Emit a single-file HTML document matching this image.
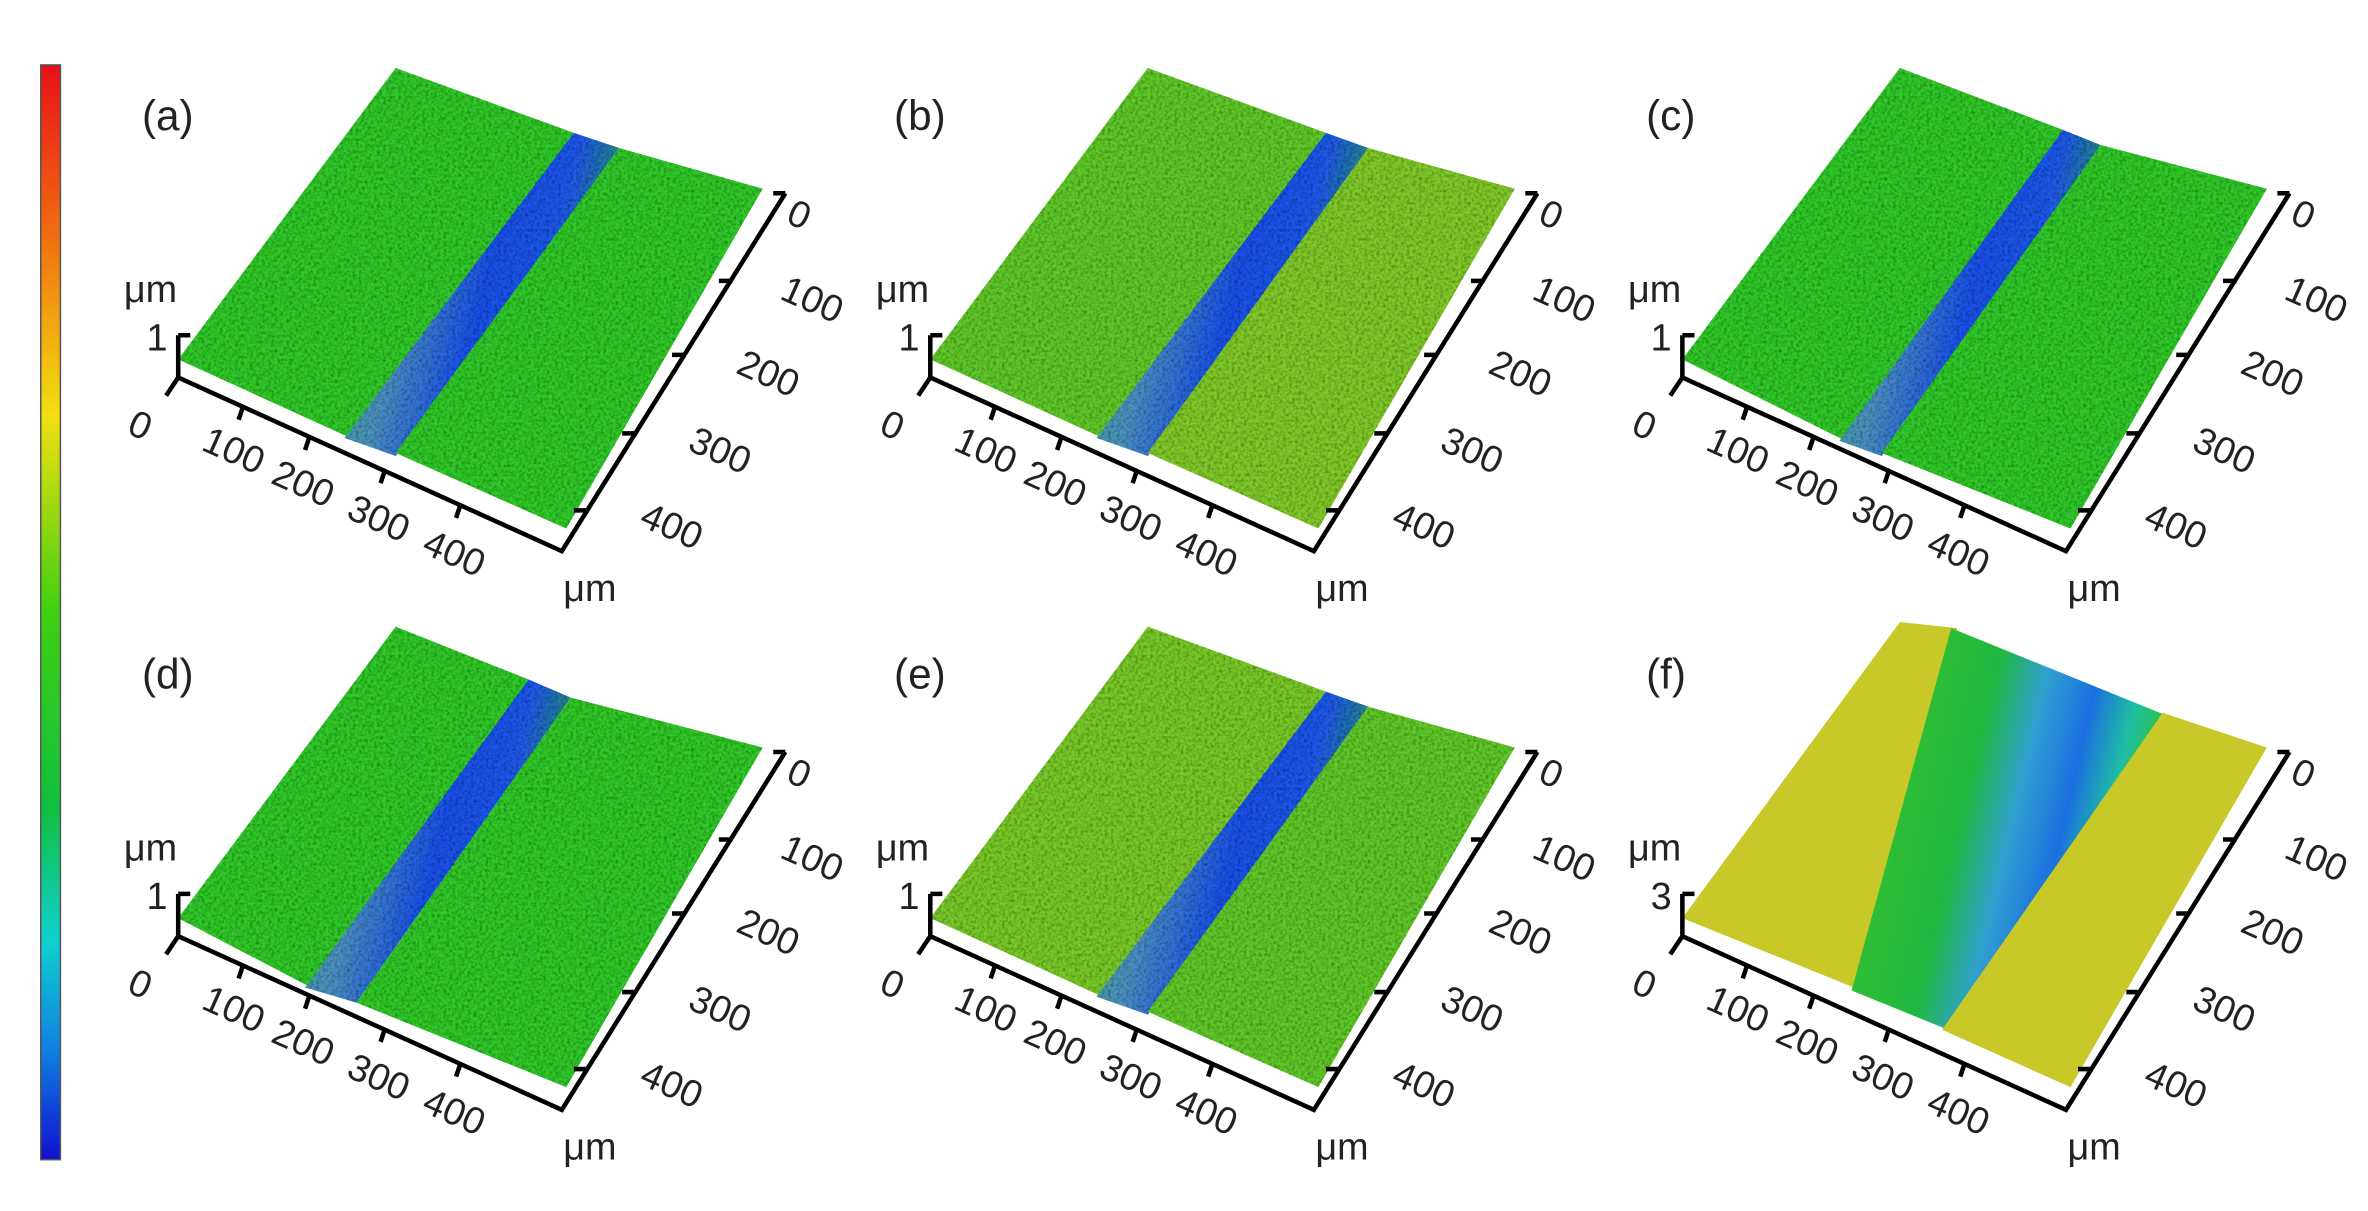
<!DOCTYPE html>
<html><head><style>
html,body{margin:0;padding:0;background:#fff;}
svg{display:block;}
text{font-family:"Liberation Sans",sans-serif;fill:#222;}
</style></head><body>
<svg width="2368" height="1211" viewBox="0 0 1568 802" preserveAspectRatio="none" xmlns="http://www.w3.org/2000/svg">
<defs>
<linearGradient id="cb" x1="0" y1="0" x2="0" y2="1">
<stop offset="0" stop-color="#e8101a"/><stop offset="0.15" stop-color="#f06a10"/>
<stop offset="0.32" stop-color="#f2e010"/><stop offset="0.5" stop-color="#40d010"/>
<stop offset="0.68" stop-color="#10c040"/><stop offset="0.8" stop-color="#10d0d0"/>
<stop offset="0.9" stop-color="#1080e0"/><stop offset="1" stop-color="#1010d0"/>
</linearGradient>
<linearGradient id="gr" x1="0" y1="0" x2="1" y2="0.3">
<stop offset="0" stop-color="#3cb868"/><stop offset="0.35" stop-color="#4a90c0"/>
<stop offset="0.6" stop-color="#1a50e8"/><stop offset="0.8" stop-color="#2058e8"/><stop offset="1" stop-color="#2a9a60"/>
</linearGradient>
<linearGradient id="grf" x1="0" y1="0" x2="1" y2="0.3">
<stop offset="0" stop-color="#b0c830"/><stop offset="0.15" stop-color="#38c030"/>
<stop offset="0.45" stop-color="#20b840"/><stop offset="0.6" stop-color="#30a0d0"/>
<stop offset="0.75" stop-color="#1a70e0"/><stop offset="0.88" stop-color="#20c0a0"/><stop offset="1" stop-color="#30c030"/>
</linearGradient>
<filter id="tx" x="0" y="0" width="1" height="1">
<feTurbulence type="fractalNoise" baseFrequency="0.5" numOctaves="2" result="n"/>
<feColorMatrix in="n" type="matrix" values="0 0 0 0 0  0 0 0 0 0  0 0 0 0 0  0 0 0 -1.2 0.75" result="d"/>
<feComposite in="d" in2="SourceGraphic" operator="in" result="dd"/>
<feMerge><feMergeNode in="SourceGraphic"/><feMergeNode in="dd"/></feMerge>
</filter>
<g id="ax">
<path d="M118,222 h8 M118,222 V250 L110,262 M118,250 L372,365 L520,128 M512,128 h8" stroke="#000" stroke-width="3" fill="none"/>
<path d="M161,269 l-3,9 M205,289 l-3,9 M255,311 l-3,9 M305,334 l-3,9 M485,186 l-9,0 M454,235 l-9,0 M421,287 l-9,0 M389,338 l-9,0" stroke="#000" stroke-width="3"/>
<g font-size="25">
<text x="86" y="291" transform="rotate(24 95 282)">0</text>
<text x="134" y="306" transform="rotate(24 153 298)">100</text>
<text x="180" y="328" transform="rotate(24 199 320)">200</text>
<text x="230" y="351" transform="rotate(24 249 343)">300</text>
<text x="280" y="374" transform="rotate(24 299 366)">400</text>
<text x="522" y="151" transform="rotate(24 530 143)">0</text>
<text x="517" y="206" transform="rotate(24 536 198)">100</text>
<text x="488" y="255" transform="rotate(24 507 247)">200</text>
<text x="456" y="306" transform="rotate(24 475 298)">300</text>
<text x="424" y="356" transform="rotate(24 443 348)">400</text>
<text x="373" y="398">μm</text>
<text x="82" y="200">μm</text>
</g>
</g>
</defs>
<rect x="27" y="43" width="13" height="725" fill="url(#cb)" stroke="#555" stroke-width="1"/>

<!-- panel a -->
<g>
<g filter="url(#tx)">
<polygon points="262,45 380,88 232,290 118,238" fill="#30c82a"/>
<polygon points="380,88 410,98 262,302 228,290" fill="url(#gr)"/>
<polygon points="410,98 505,125 375,350 262,300" fill="#30c82a"/>
</g>
<use href="#ax"/>
<text x="94" y="86" font-size="28">(a)</text><text x="97" y="232" font-size="25">1</text>
</g>
<!-- panel b -->
<g transform="translate(498,0)">
<g filter="url(#tx)">
<polygon points="262,45 380,88 232,290 118,238" fill="#60c82a"/>
<polygon points="380,88 408,98 262,302 228,290" fill="url(#gr)"/>
<polygon points="408,98 505,125 375,350 262,300" fill="#80c82c"/>
</g>
<use href="#ax"/>
<text x="94" y="86" font-size="28">(b)</text><text x="97" y="232" font-size="25">1</text>
</g>
<!-- panel c -->
<g transform="translate(996,0)">
<g filter="url(#tx)">
<polygon points="262,45 370,86 226,292 118,238" fill="#30c82a"/>
<polygon points="370,86 395,96 250,302 222,292" fill="url(#gr)"/>
<polygon points="395,96 505,125 375,350 250,300" fill="#30c82a"/>
</g>
<use href="#ax"/>
<text x="94" y="86" font-size="28">(c)</text><text x="97" y="232" font-size="25">1</text>
</g>
<!-- panel d -->
<g transform="translate(0,370)">
<g filter="url(#tx)">
<polygon points="262,45 350,80 206,284 118,238" fill="#30c82a"/>
<polygon points="350,80 378,92 236,294 202,284" fill="url(#gr)"/>
<polygon points="378,92 505,125 375,350 236,294" fill="#30c82a"/>
</g>
<use href="#ax"/>
<text x="94" y="86" font-size="28">(d)</text><text x="97" y="232" font-size="25">1</text>
</g>
<!-- panel e -->
<g transform="translate(498,370)">
<g filter="url(#tx)">
<polygon points="262,45 380,88 232,290 118,238" fill="#78c82c"/>
<polygon points="380,88 408,98 262,302 228,290" fill="url(#gr)"/>
<polygon points="408,98 505,125 375,350 262,300" fill="#60c82a"/>
</g>
<use href="#ax"/>
<text x="94" y="86" font-size="28">(e)</text><text x="97" y="232" font-size="25">1</text>
</g>
<!-- panel f -->
<g transform="translate(996,370)">
<polygon points="262,42 300,46 234,285 118,238" fill="#c8c828"/>
<polygon points="296,46 439,104 294,312 230,286" fill="url(#grf)"/>
<polygon points="436,102 505,125 375,350 290,312" fill="#c8c828"/>
<use href="#ax"/>
<text x="94" y="86" font-size="28">(f)</text><text x="97" y="232" font-size="25">3</text>
</g>
</svg>
</body></html>
